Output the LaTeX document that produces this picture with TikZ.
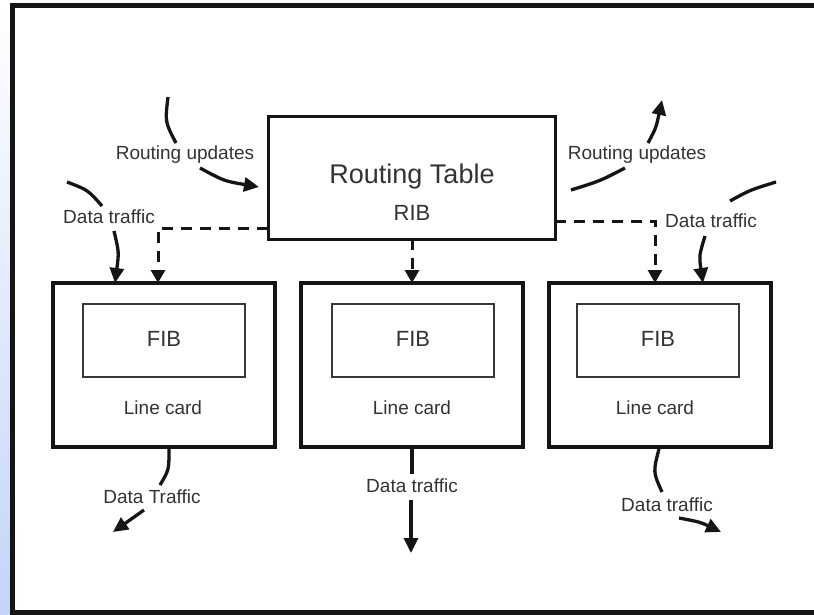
\documentclass[tikz,border=0pt]{standalone}
\usepackage{fontspec}
\setmainfont{Liberation Sans}
\usetikzlibrary{arrows.meta}
\definecolor{ink}{HTML}{151515}
\definecolor{txt}{HTML}{333333}
\definecolor{bgblue}{HTML}{C4D4F8}
\begin{document}
\begin{tikzpicture}[x=1pt,y=-1pt,
  frame/.style={draw=ink,line width=5pt,fill=white},
  ribbox/.style={draw=ink,line width=3pt,fill=white,minimum width=287pt,minimum height=122pt,inner sep=0pt,outer sep=0pt},
  cardbox/.style={draw=ink,line width=3.5pt,fill=white,minimum width=222pt,minimum height=164pt,inner sep=0pt,outer sep=0pt},
  fibbox/.style={draw=ink!85,line width=2pt,minimum width=162pt,minimum height=73pt,inner sep=0pt,outer sep=0pt},
  lbl/.style={text=txt,font=\fontsize{19}{21}\selectfont,inner sep=0pt},
  big/.style={text=txt,font=\fontsize{27}{30}\selectfont,inner sep=0pt},
  mid/.style={text=txt,font=\fontsize{22}{25}\selectfont,inner sep=0pt},
  flow/.style={draw=ink,line width=3.3pt},
  flowarr/.style={draw=ink,line width=3.3pt,-{Triangle[length=15pt,width=14pt]}},
  ctl/.style={draw=ink,line width=3pt,dash pattern=on 11pt off 8pt,-{Triangle[length=13pt,width=14pt]}}]
\useasboundingbox (0,0) rectangle (814,615);
\clip (0,0) rectangle (814,615);
\shade[top color=white,bottom color=bgblue] (0,0) rectangle (814,615);
\draw[frame] (12.5,5.5) rectangle (830,612);

% Routing table
\node[ribbox] (rib) at (411.5,178) {};
\node[big] (ribt) at (412,177) {Routing Table};
\node[mid] (ribs) at (412,213) {RIB};

% line cards
\node[cardbox] (lc1) at (164,365) {};
\node[cardbox] (lc2) at (412,365) {};
\node[cardbox] (lc3) at (660,365) {};
\node[fibbox] (fib1) at (164,340.5) {};
\node[fibbox] (fib2) at (413,340.5) {};
\node[fibbox] (fib3) at (658,340.5) {};
\node[mid] (fibt1) at (164,339) {FIB};
\node[mid] (fibt2) at (413,339) {FIB};
\node[mid] (fibt3) at (658,339) {FIB};
\node[lbl] (lct1) at (163,408) {Line card};
\node[lbl] (lct2) at (412,408) {Line card};
\node[lbl] (lct3) at (655,408) {Line card};

% dashed control links
\coordinate (dl) at (158,228);
\coordinate (dr) at (655,221);
\draw[ctl] (dl -| rib.west) -- (dl) -- (dl |- lc1.north);
\draw[ctl] (dr -| rib.east) -- (dr) -- (dr |- lc3.north);
\draw[ctl] (rib.south -| ribs) -- (lc2.north -| ribs);

% routing updates in (left)
\coordinate (a1) at (168,97); \coordinate (a2) at (176,143);
\coordinate (a3) at (200,168); \coordinate (a4) at (259,187);
\node[lbl] (ru1) at (185,155) {Routing updates};
\draw[flow] (a1) .. controls (165,122) .. (a2);
\draw[flowarr] (a3) .. controls (224,181) .. (a4);

% data traffic in (left)
\coordinate (b1) at (67,182); \coordinate (b2) at (102,206);
\coordinate (b3) at (114,231); \coordinate (b4) at (115,283);
\node[lbl] (dt1) at (109,217) {Data traffic};
\draw[flow] (b1) .. controls (88,190) .. (b2);
\draw[flowarr] (b3) .. controls (119,252) .. (b4);

% routing updates out (right)
\coordinate (c1) at (571,190); \coordinate (c2) at (625,168);
\coordinate (c3) at (648,143); \coordinate (c4) at (662,100);
\node[lbl] (ru2) at (637,155) {Routing updates};
\draw[flow] (c1) .. controls (600,181) .. (c2);
\draw[flowarr] (c3) .. controls (656,128) .. (c4);

% data traffic in (right)
\coordinate (d1) at (776,182); \coordinate (d2) at (730,201);
\coordinate (d3) at (705,236); \coordinate (d4) at (703,283);
\node[lbl] (dt2) at (711,221) {Data traffic};
\draw[flow] (d1) .. controls (750,190) .. (d2);
\draw[flowarr] (d3) .. controls (699,256) .. (d4);

% data traffic out (left)
\coordinate (e1) at (169,449); \coordinate (e2) at (160,485);
\coordinate (e3) at (144,510); \coordinate (e4) at (113,532);
\node[lbl] (dt3) at (152,497) {Data Traffic};
\draw[flow] (e1) .. controls (169,470) .. (e2);
\draw[flowarr] (e3) -- (e4);

% data traffic out (middle)
\coordinate (f1) at (412,448); \coordinate (f2) at (412,474);
\coordinate (f3) at (411,500); \coordinate (f4) at (411,553);
\node[lbl] (dt4) at (412,486) {Data traffic};
\draw[flow] (f1) -- (f2);
\draw[flowarr] (f3) -- (f4);

% data traffic out (right)
\coordinate (g1) at (659,449); \coordinate (g2) at (662,492);
\coordinate (g3) at (679,518); \coordinate (g4) at (721,532);
\node[lbl] (dt5) at (667,505) {Data traffic};
\draw[flow] (g1) .. controls (653,472) .. (g2);
\draw[flowarr] (g3) .. controls (700,522) .. (g4);
\end{tikzpicture}
\end{document}
